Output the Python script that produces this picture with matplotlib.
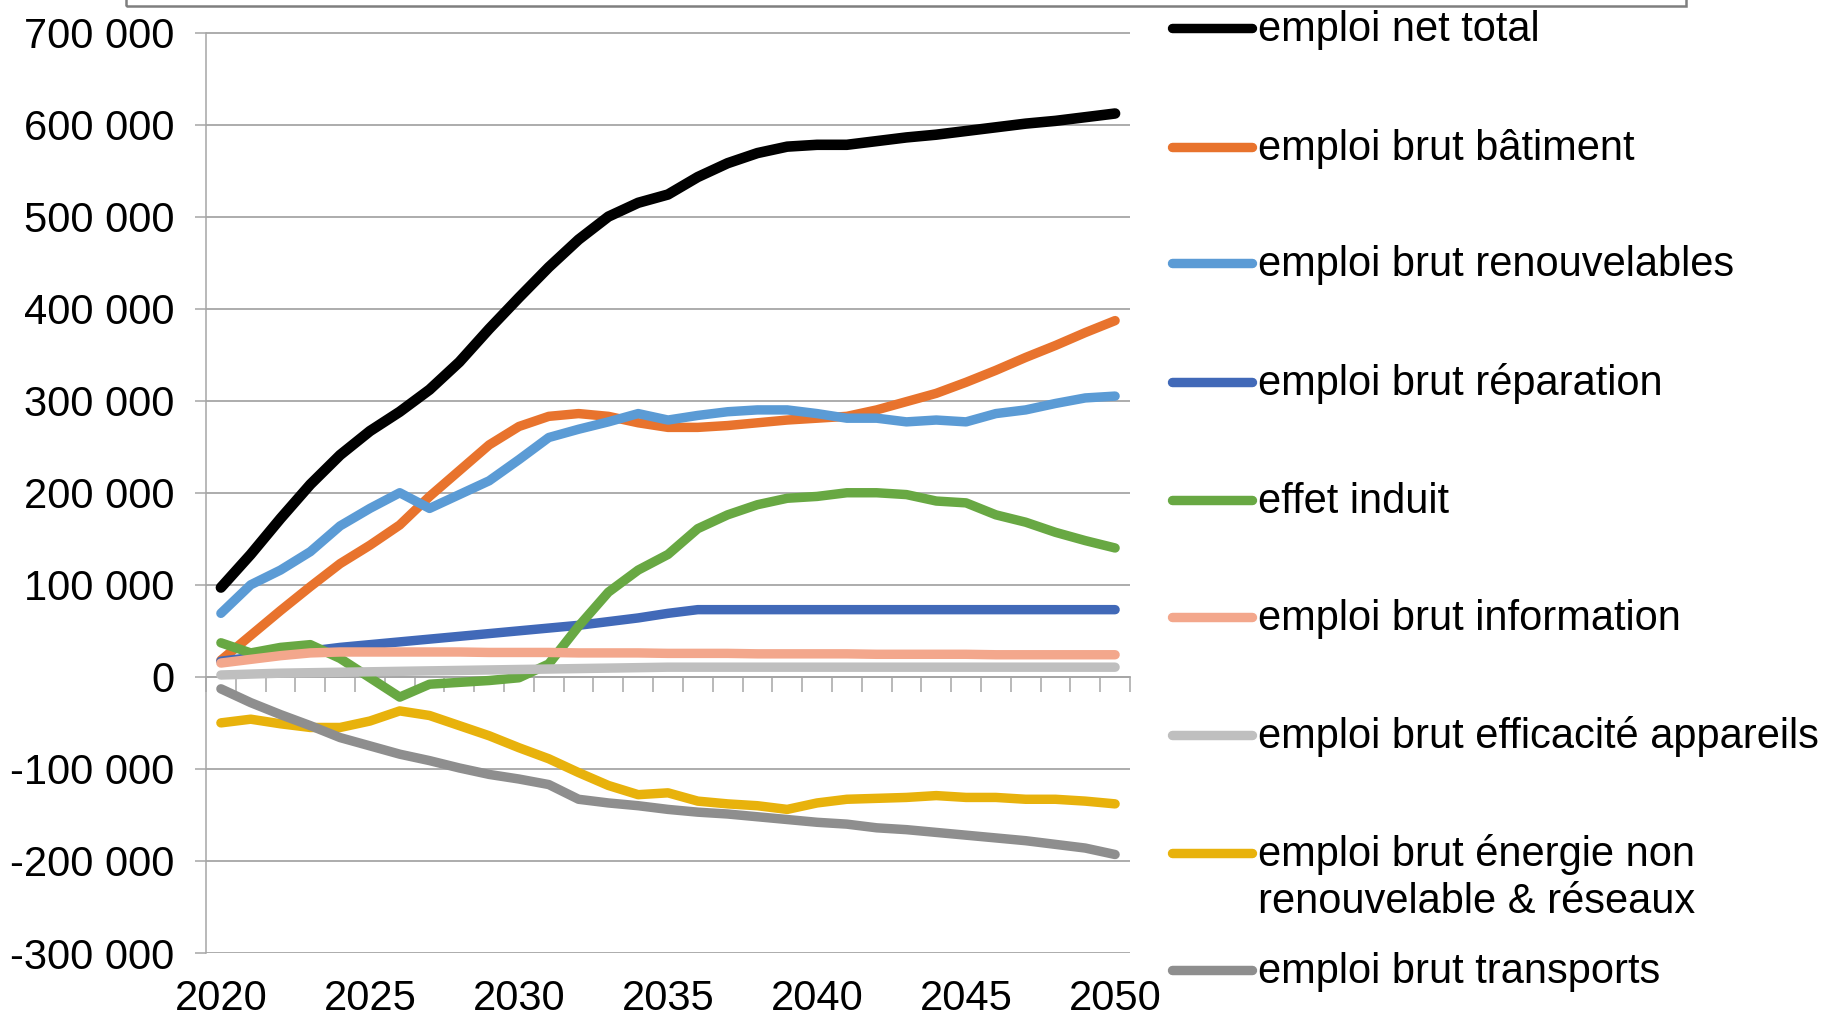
import matplotlib
matplotlib.use("Agg")
import matplotlib.pyplot as plt
from matplotlib.lines import Line2D
from matplotlib.patches import Rectangle
from matplotlib.ticker import FuncFormatter

plt.rcParams['font.family'] = ['Liberation Sans', 'DejaVu Sans']

years = list(range(2020, 2051))

net_total = [97000, 133000, 172000, 209000, 241000, 267000, 288000, 312000, 342000, 378000,
             412000, 445000, 475000, 500000, 515000, 524000, 543000, 558000, 569000, 576000,
             578000, 578000, 582000, 586000, 589000, 593000, 597000, 601000, 604000, 608000, 612000]
batiment = [18000, 45000, 72000, 98000, 123000, 143000, 165000, 196000, 224000, 252000,
            272000, 283000, 286000, 283000, 276000, 271000, 271000, 273000, 276000, 279000,
            281000, 283000, 290000, 299000, 308000, 320000, 333000, 347000, 360000, 374000, 387000]
renouvelables = [69000, 100000, 116000, 136000, 164000, 183000, 200000, 183000, 198000, 213000,
                 236000, 260000, 269000, 277000, 286000, 279000, 284000, 288000, 290000, 290000,
                 286000, 281000, 281000, 277000, 279000, 277000, 286000, 290000, 297000, 303000, 305000]
reparation = [17000, 21000, 25000, 28000, 32000, 35000, 38000, 41000, 44000, 47000,
              50000, 53000, 56000, 60000, 64000, 69000, 73000, 73000, 73000, 73000,
              73000, 73000, 73000, 73000, 73000, 73000, 73000, 73000, 73000, 73000, 73000]
effet_induit = [37000, 26000, 32000, 35000, 20000, -1000, -22000, -8000, -6000, -4000,
                -1000, 14000, 55000, 92000, 116000, 133000, 161000, 176000, 187000, 194000,
                196000, 200000, 200000, 198000, 191000, 189000, 176000, 168000, 157000, 148000, 140000]
information = [15000, 19000, 23000, 26000, 27000, 27000, 27000, 27000, 27000, 26500,
               26500, 26500, 26000, 26000, 26000, 25500, 25500, 25500, 25000, 25000,
               25000, 25000, 24500, 24500, 24500, 24500, 24000, 24000, 24000, 24000, 24000]
efficacite = [2000, 3000, 4000, 4500, 5000, 5500, 6000, 6500, 7000, 7500,
              8000, 8500, 9000, 9500, 10000, 10500, 10500, 10500, 10500, 10500,
              10500, 10500, 10500, 10500, 10500, 10500, 10500, 10500, 10500, 10500, 10500]
energie_nr = [-50000, -46000, -51000, -55000, -55000, -48000, -37000, -42000, -53000, -64000,
              -77000, -89000, -104000, -118000, -128000, -126000, -135000, -138000, -140000, -144000,
              -137000, -133000, -132000, -131000, -129000, -131000, -131000, -133000, -133000, -135000, -138000]
transports = [-13000, -28000, -41000, -53000, -66000, -75000, -84000, -91000, -99000, -106000,
              -111000, -117000, -133000, -137000, -140000, -144000, -147000, -149000, -152000, -155000,
              -158000, -160000, -164000, -166000, -169000, -172000, -175000, -178000, -182000, -186000, -193000]

labels = ["emploi net total", "emploi brut bâtiment", "emploi brut renouvelables",
          "emploi brut réparation", "effet induit", "emploi brut information",
          "emploi brut efficacité appareils",
          "emploi brut énergie non\nrenouvelable & réseaux", "emploi brut transports"]
series = [net_total, batiment, renouvelables, reparation, effet_induit, information,
          efficacite, energie_nr, transports]
colors = ['#000000', '#E8732D', '#5B9BD5', '#4169B8', '#68A843', '#F3A78C',
          '#BFBFBF', '#E8B20C', '#8E8E8E']
widths = [7.6, 6.8, 6.8, 6.8, 6.8, 6.8, 6.8, 6.8, 6.8]

yticks = list(range(-300000, 700001, 100000))
xlabel_years = [2020, 2025, 2030, 2035, 2040, 2045, 2050]

W, H = 1843, 1021
fig = plt.figure(figsize=(W / 100, H / 100), dpi=100)
ax = fig.add_axes([206 / W, 1 - 953 / H, (1130 - 206) / W, (953 - 32.5) / H])

FS = 30
grid_c = '#A6A6A6'

for s, c, lw in zip(series, colors, widths):
    ax.plot(years, s, color=c, lw=lw, solid_capstyle='round', solid_joinstyle='round', zorder=3)

ax.set_xlim(2019.5, 2050.5)
ax.set_ylim(-300000, 700000)
ax.set_yticks(yticks)
ax.yaxis.set_major_formatter(FuncFormatter(lambda v, p: f"{int(v):,}".replace(",", " ")))
ax.grid(axis='y', color=grid_c, lw=1.3, zorder=1)
ax.tick_params(axis='y', length=8, width=1.1, color=grid_c, pad=15, labelsize=FS)

for sp in ['top', 'right']:
    ax.spines[sp].set_visible(False)
ax.spines['left'].set_color(grid_c)
ax.spines['left'].set_linewidth(1.1)
ax.spines['bottom'].set_position(('data', 0))
ax.spines['bottom'].set_color(grid_c)
ax.spines['bottom'].set_linewidth(1.3)
ax.set_xticks([y + 0.5 for y in range(2019, 2051)])
ax.tick_params(axis='x', length=10.5, width=1.1, color=grid_c, labelbottom=False, direction='out')

sec = ax.secondary_xaxis('bottom')
sec.set_xticks(xlabel_years)
sec.set_xticklabels([str(y) for y in xlabel_years])
sec.tick_params(axis='x', length=0, pad=19, labelsize=FS)
sec.spines['bottom'].set_visible(False)

# top box (cut-off frame)
fig.add_artist(Rectangle((126 / W, 1 - 6 / H), (1686 - 126) / W, 40 / H,
                         transform=fig.transFigure, fill=False, edgecolor='#7F7F7F', lw=1.8,
                         clip_on=False))

# legend (manual)
handle_y = [28, 147, 263, 382, 500, 617, 735, 853, 970]
for lab, c, hy in zip(labels, colors, handle_y):
    fig.add_artist(Line2D([1172 / W, 1252 / W], [1 - hy / H, 1 - hy / H], color=c, lw=6.8,
                          solid_capstyle='round', transform=fig.transFigure))
    for i, line in enumerate(lab.split("\n")):
        fig.text(1258 / W, 1 - (hy + 13 + 47 * i) / H, line, fontsize=FS, va='baseline',
                 ha='left', color='#000000')

fig.savefig("out.png", dpi=100)
